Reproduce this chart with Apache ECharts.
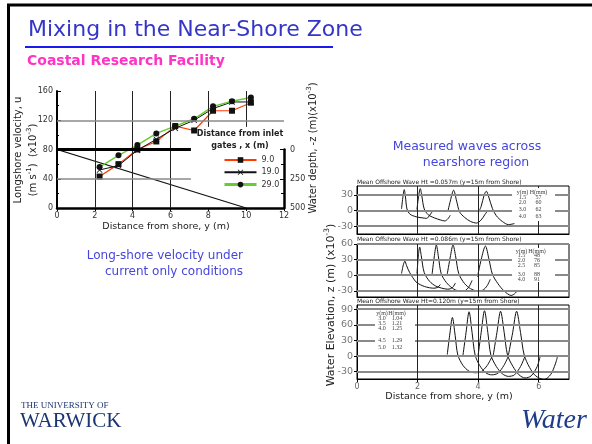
<!DOCTYPE html>
<html><head><meta charset="utf-8">
<script src="https://cdn.jsdelivr.net/npm/echarts@6/dist/echarts.min.js"></script>
<style>html,body{margin:0;padding:0;background:#fff}#c{width:592px;height:444px}</style>
</head><body><div id="c"></div>
<script>
// ---------- DATA ----------
const shoreDist = [2.25, 3.25, 4.25, 5.25, 6.25, 7.25, 8.25, 9.25, 10.25];
const vel9  = [43, 60, 80, 91, 112, 106, 133, 133, 144];
const vel19 = [52, 58, 79, 94, 109, 120, 136, 145, 145];
const vel29 = [56, 72, 86, 102, 112, 122, 139, 146, 151];
const gateNames = ['9.0', '19.0', '29.0'];
const depthX = [0, 10];
const depthZ = [0, 500];

// Waves, panel 1 (offshore Ht 0.057 m)
const p1y15 = [[1.47,3],[1.52,28],[1.56,40],[1.60,26],[1.65,3],[1.75,-7],[1.95,-12],[2.15,-14],[2.3,-15],[2.4,-9],[2.5,-1]];
const p1y20 = [[1.98,2],[2.04,30],[2.09,42],[2.14,28],[2.22,3],[2.35,-8],[2.55,-14],[2.75,-18],[2.9,-20],[3.0,-16],[3.08,-9]];
const p1y30 = [[3.0,-2],[3.08,18],[3.19,39],[3.29,18],[3.39,-3],[3.55,-13],[3.75,-21],[3.95,-24],[4.1,-18],[4.22,-8],[4.32,0]];
const p1y40 = [[4.0,-5],[4.1,8],[4.2,30],[4.27,37],[4.35,26],[4.47,4],[4.6,-10],[4.8,-21],[5.0,-27],[5.2,-25]];
// Waves, panel 2 (offshore Ht 0.086 m)
const p2y15 = [[1.47,3],[1.53,20],[1.58,27],[1.64,18],[1.74,5],[1.95,-13],[2.15,-20],[2.3,-23],[2.5,-25],[2.65,-24],[2.75,-18]];
const p2y20 = [[1.98,3],[2.03,40],[2.07,54],[2.12,38],[2.22,5],[2.4,-12],[2.6,-21],[2.8,-25],[3.0,-27],[3.15,-24],[3.25,-15]];
const p2y25 = [[2.48,2],[2.55,35],[2.62,58],[2.69,35],[2.78,3],[2.95,-14],[3.15,-25],[3.35,-30],[3.55,-30],[3.7,-22],[3.8,-10]];
const p2y30 = [[2.98,2],[3.08,35],[3.17,58],[3.26,35],[3.36,3],[3.55,-16],[3.75,-26],[3.95,-30],[4.15,-29],[4.3,-20],[4.4,-8]];
const p2y40 = [[3.98,-3],[4.1,30],[4.24,56],[4.36,30],[4.47,2],[4.65,-16],[4.85,-30],[5.09,-39],[5.2,-36],[5.31,-29]];
// Waves, panel 3 (offshore Ht 0.120 m)
const p3y30 = [[2.98,3],[3.06,40],[3.15,74],[3.24,40],[3.33,2],[3.5,-18],[3.7,-29],[3.9,-32],[4.1,-30],[4.3,-18],[4.45,-2]];
const p3y35 = [[3.5,2],[3.6,45],[3.70,85],[3.8,45],[3.9,2],[4.05,-18],[4.25,-32],[4.45,-36],[4.65,-33],[4.85,-18],[5.0,0]];
const p3y40 = [[4.0,2],[4.1,45],[4.21,87],[4.32,45],[4.42,2],[4.6,-20],[4.8,-34],[5.0,-39],[5.2,-36],[5.4,-20],[5.55,0]];
const p3y45 = [[4.5,2],[4.62,45],[4.74,86],[4.86,45],[4.97,2],[5.15,-20],[5.35,-36],[5.55,-42],[5.75,-38],[5.95,-20],[6.05,0]];
const p3y50 = [[5.0,2],[5.14,45],[5.27,86],[5.4,45],[5.52,2],[5.7,-22],[5.9,-38],[6.18,-45],[6.4,-35],[6.55,-15],[6.62,-1]];

const panelTitles = [
  'Mean Offshore Wave Ht =0.057m (y=15m from Shore)',
  'Mean Offshore Wave Ht =0.086m (y=15m from Shore)',
  'Mean Offshore Wave Ht=0.120m (y=15m from Shore)'
];
const table1 = [['1.5','57'],['2.0','60'],['3.0','62'],['4.0','63']];
const table2 = [['1.5','48'],['2.0','76'],['2.5','85'],['3.0','88'],['4.0','91']];
const table3 = [['3.0','1.04'],['3.5','1.21'],['4.0','1.25'],['4.5','1.29'],['5.0','1.32']];
const panel1Ticks = [-30, 0, 30];
const panel2Ticks = [-30, 0, 30, 60];
const panel3Ticks = [-30, 0, 30, 60, 90];

// ---------- CHART ----------
const F = 'DejaVu Sans';
const pairs = (xs, ys) => xs.map((x, i) => [x, ys[i]]);
const chart = echarts.init(document.getElementById('c'));

const ML = (data) => ({
  silent: true, symbol: ['none', 'none'], label: {show: false}, animation: false,
  lineStyle: {type: 'solid'}, emphasis: {disabled: true}, data: data
});
const blk = (w) => ({color: '#222', width: w, type: 'solid'});
const gry = (w) => ({color: '#8a8a8a', width: w, type: 'solid'});

function panelHelper(idx, ticks) {
  const d = ticks.map(t => ({yAxis: t, lineStyle: gry(2)}));
  [2, 4, 6].forEach(x => d.push({xAxis: x, lineStyle: blk(1)}));
  return {type: 'line', xAxisIndex: idx, yAxisIndex: idx, data: [], z: 1, markLine: ML(d)};
}
function wave(idx, data) {
  return {type: 'line', xAxisIndex: idx, yAxisIndex: idx, data: data, showSymbol: false,
    smooth: 0.3, lineStyle: {color: '#111', width: 1}, z: 3, silent: true};
}
function panelX(idx, grid, showLabels) {
  return {type: 'value', gridIndex: grid, min: 0, max: 7, interval: 2,
    axisLine: {show: true, onZero: false, lineStyle: {color: '#000', width: 1}},
    axisTick: {show: showLabels, length: 3, lineStyle: {color: '#000'}},
    axisLabel: {show: showLabels, fontSize: 8, color: '#666', fontFamily: F, margin: 4, showMaxLabel: false},
    splitLine: {show: false}};
}
function panelY(grid, min, max, ticks) {
  return {type: 'value', gridIndex: grid, min: min, max: max,
    axisLine: {show: true, onZero: false, lineStyle: {color: '#000', width: 1}},
    axisTick: {show: true, length: 3, customValues: ticks, lineStyle: {color: '#000'}},
    axisLabel: {fontSize: 9.5, color: '#777', fontFamily: F, margin: 4, customValues: ticks},
    splitLine: {show: false}};
}

const g = [];
const txt = (x, y, text, opt) => g.push(Object.assign({type: 'text', x: x, y: y, z: 20, silent: true,
  style: Object.assign({text: text, fontFamily: F, fontSize: 10, fill: '#222', align: 'left', verticalAlign: 'middle'}, opt || {})}));
// slide border
g.push({type: 'rect', z: 0, silent: true, shape: {x: 8.5, y: 5, width: 700, height: 600},
  style: {fill: 'none', stroke: '#000', lineWidth: 3}});
txt(28, 30, 'Mixing in the Near-Shore Zone', {fontSize: 22, fill: '#3535c8'});
g.push({type: 'line', z: 20, silent: true, shape: {x1: 25, y1: 47, x2: 333, y2: 47}, style: {stroke: '#1a1aee', lineWidth: 2}});
txt(27, 61, 'Coastal Research Facility', {fontSize: 14, fontWeight: 'bold', fill: '#ff33c4'});
// left chart axis names
g.push({type: 'text', x: 18, y: 150, rotation: Math.PI / 2, z: 20, silent: true,
  style: {text: 'Longshore velocity, u', fontFamily: F, fontSize: 10, fill: '#222', align: 'center', verticalAlign: 'middle'}});
g.push({type: 'text', x: 33, y: 160, rotation: Math.PI / 2, z: 20, silent: true,
  style: {text: '(m s{s|-1})  (x10{s|-3})', fontFamily: F, fontSize: 10, fill: '#222', align: 'center', verticalAlign: 'middle',
    rich: {s: {fontSize: 7, fontFamily: F, fill: '#222', padding: [0, 0, 8, 0]}}}});
txt(166, 227, 'Distance from shore, y (m)', {fontSize: 9.5, align: 'center'});
g.push({type: 'text', x: 313, y: 148, rotation: Math.PI / 2, z: 20, silent: true,
  style: {text: 'Water depth, -z (m)(x10{s|-3})', fontFamily: F, fontSize: 10, fill: '#222', align: 'center', verticalAlign: 'middle',
    rich: {s: {fontSize: 7, fontFamily: F, fill: '#222', padding: [0, 0, 8, 0]}}}});
// legend header
txt(240, 134, 'Distance from inlet', {fontSize: 8, fontWeight: 'bold', align: 'center'});
txt(240, 146, 'gates , x (m)', {fontSize: 8, fontWeight: 'bold', align: 'center'});
// captions
txt(243, 256, 'Long-shore velocity under', {fontSize: 12, fill: '#4646dd', align: 'right'});
txt(243, 272, 'current only conditions', {fontSize: 12, fill: '#4646dd', align: 'right'});
txt(467, 147, 'Measured waves across', {fontSize: 12.5, fill: '#4646dd', align: 'center'});
txt(476, 163, 'nearshore region', {fontSize: 12.5, fill: '#4646dd', align: 'center'});
// right axis names
g.push({type: 'text', x: 331, y: 305, rotation: Math.PI / 2, z: 20, silent: true,
  style: {text: 'Water Elevation, z (m) (x10{s|-3})', fontFamily: F, fontSize: 11, fill: '#222', align: 'center', verticalAlign: 'middle',
    rich: {s: {fontSize: 7.5, fontFamily: F, fill: '#222', padding: [0, 0, 8, 0]}}}});
txt(449, 397, 'Distance from shore, y (m)', {fontSize: 9.5, align: 'center'});
// panel titles
txt(357, 182.5, panelTitles[0], {fontSize: 6});
txt(357, 239.5, panelTitles[1], {fontSize: 6});
txt(357, 301, panelTitles[2], {fontSize: 6});
// tables
function table(x0, y0, w, h, cx1, cx2, headY, rowsY, rows) {
  g.push({type: 'rect', z: 15, silent: true, shape: {x: x0, y: y0, width: w, height: h}, style: {fill: '#fff'}});
  const ts = {fontSize: 6, fontFamily: 'Liberation Serif', fill: '#444', align: 'center'};
  txt(cx1, headY, 'y(m)', ts); txt(cx2, headY, 'H(mm)', ts);
  rows.forEach((r, i) => { txt(cx1, rowsY[i], r[0], ts); txt(cx2, rowsY[i], r[1], ts); });
}
table(512, 188, 43, 33, 522.5, 538.5, 192, [197.5, 202.5, 209, 216], table1);
table(512, 248, 43, 34, 521.5, 537, 251, [255.5, 260, 265, 274.5, 279], table2);
table(375, 310, 40, 40, 382, 397, 313.5, [318.5, 323.5, 328, 340, 347], table3);
// logo and footer
txt(21, 406, 'THE UNIVERSITY OF', {fontSize: 9, fontFamily: 'Liberation Serif', fill: '#1b3570'});
txt(20, 421, 'WARWICK', {fontSize: 21, fontFamily: 'Liberation Serif', fill: '#1b3570'});
txt(521, 421, 'Water', {fontSize: 28, fontStyle: 'italic', fontFamily: 'Liberation Serif', fill: '#1f3c88'});

const xMark = 'path://M0,1L1,0L5,4L9,0L10,1L6,5L10,9L9,10L5,6L1,10L0,9L4,5Z';

const option = {
  animation: false,
  backgroundColor: '#fff',
  textStyle: {fontFamily: F},
  grid: [
    {left: 57, right: 308, top: 91, bottom: 236},
    {left: 57, right: 308, top: 149.5, bottom: 236},
    {left: 357, right: 23, top: 186, bottom: 210, show: true, borderColor: '#000', borderWidth: 1},
    {left: 357, right: 23, top: 244, bottom: 147, show: true, borderColor: '#000', borderWidth: 1},
    {left: 357, right: 23, top: 305, bottom: 65, show: true, borderColor: '#000', borderWidth: 1}
  ],
  xAxis: [
    {type: 'value', gridIndex: 0, min: 0, max: 12, interval: 2,
      axisLine: {onZero: false, lineStyle: {color: '#000', width: 2.5}},
      axisTick: {length: 3, lineStyle: {color: '#000'}},
      axisLabel: {fontSize: 8, color: '#333', fontFamily: F, margin: 4},
      splitLine: {show: false}},
    {type: 'value', gridIndex: 1, min: 0, max: 12, show: false},
    panelX(2, 2, false), panelX(3, 3, false), panelX(4, 4, true)
  ],
  yAxis: [
    {type: 'value', gridIndex: 0, min: 0, max: 160, interval: 40,
      axisLine: {show: true, onZero: false, lineStyle: {color: '#000', width: 2}},
      axisTick: {show: true, inside: true, length: 4, lineStyle: {color: '#000'}},
      minorTick: {show: true, splitNumber: 2, length: 2, lineStyle: {color: '#000'}},
      axisLabel: {fontSize: 8, color: '#333', fontFamily: F, margin: 4},
      splitLine: {show: false}},
    {type: 'value', gridIndex: 1, position: 'right', inverse: true, min: 0, max: 500, interval: 250,
      axisLine: {show: true, onZero: false, lineStyle: {color: '#000', width: 2.5}},
      axisTick: {show: true, inside: true, length: 4, lineStyle: {color: '#000'}},
      minorTick: {show: true, splitNumber: 2, length: 3, lineStyle: {color: '#000'}},
      axisLabel: {fontSize: 8, color: '#333', fontFamily: F, margin: 6},
      splitLine: {show: false}},
    panelY(2, -45, 47, panel1Ticks), panelY(3, -42, 60, panel2Ticks), panelY(4, -44, 98, panel3Ticks)
  ],
  legend: {
    data: [{name: '9.0'}, {name: '19.0'}, {name: '29.0', lineStyle: {width: 3}}],
    orient: 'vertical', left: 218, top: 151, itemWidth: 32, itemHeight: 7, itemGap: 4.3,
    textStyle: {fontSize: 8, color: '#333', fontFamily: F}, selectedMode: false
  },
  graphic: {elements: g},
  series: [
    {type: 'line', xAxisIndex: 0, yAxisIndex: 0, data: [], z: 1, markLine: ML([
      {xAxis: 2, lineStyle: blk(1)}, {xAxis: 4, lineStyle: blk(1)}, {xAxis: 6, lineStyle: blk(1)},
      [{coord: [8, 111], lineStyle: blk(1)}, {coord: [8, 160]}],
      [{coord: [10, 111], lineStyle: blk(1)}, {coord: [10, 160]}],
      [{coord: [0, 120], lineStyle: gry(1.5)}, {coord: [12, 120]}],
      [{coord: [0, 80], lineStyle: {color: '#000', width: 3, type: 'solid'}}, {coord: [7.08, 80]}],
      [{coord: [0, 40], lineStyle: gry(1.5)}, {coord: [7.08, 40]}]
    ])},
    {name: 'depth', type: 'line', xAxisIndex: 1, yAxisIndex: 1, data: pairs(depthX, depthZ), showSymbol: false,
      lineStyle: {color: '#111', width: 1.2}, z: 2, silent: true},
    {name: gateNames[0], type: 'line', xAxisIndex: 0, yAxisIndex: 0, data: pairs(shoreDist, vel9),
      symbol: 'rect', symbolSize: 6, itemStyle: {color: '#111'}, lineStyle: {color: '#ff3a00', width: 1.2}, z: 4},
    {name: gateNames[1], type: 'line', xAxisIndex: 0, yAxisIndex: 0, data: pairs(shoreDist, vel19),
      symbol: xMark, symbolSize: 6, itemStyle: {color: '#111'}, lineStyle: {color: '#111', width: 1}, z: 4},
    {name: gateNames[2], type: 'line', xAxisIndex: 0, yAxisIndex: 0, data: pairs(shoreDist, vel29),
      symbol: 'circle', symbolSize: 6, itemStyle: {color: '#111'}, lineStyle: {color: '#66cc33', width: 1.5}, z: 4},
    panelHelper(2, panel1Ticks), panelHelper(3, panel2Ticks), panelHelper(4, panel3Ticks),
    wave(2, p1y15), wave(2, p1y20), wave(2, p1y30), wave(2, p1y40),
    wave(3, p2y15), wave(3, p2y20), wave(3, p2y25), wave(3, p2y30), wave(3, p2y40),
    wave(4, p3y30), wave(4, p3y35), wave(4, p3y40), wave(4, p3y45), wave(4, p3y50)
  ]
};
chart.setOption(option);
</script></body></html>
